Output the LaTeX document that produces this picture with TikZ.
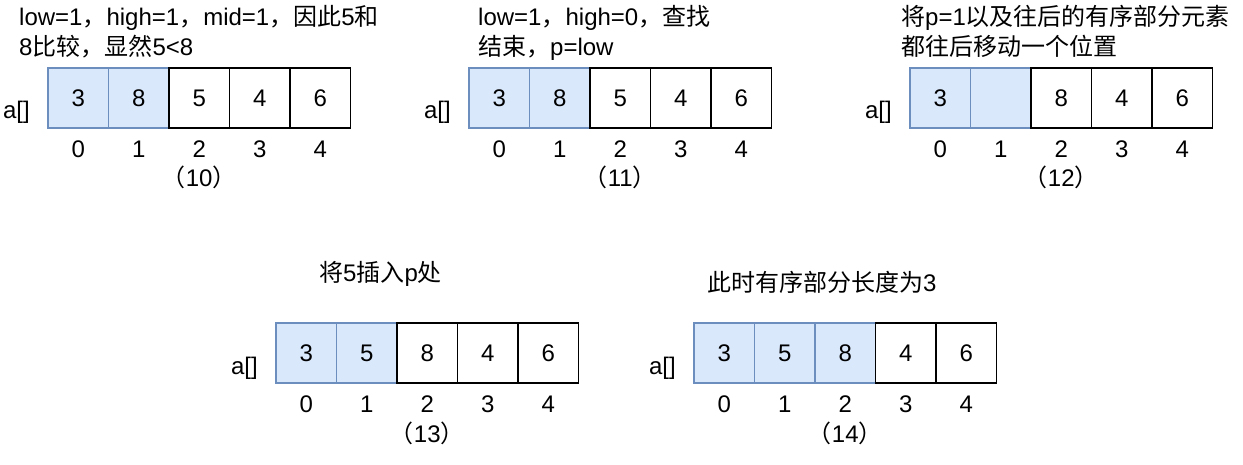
\documentclass[tikz,border=0pt]{standalone}
\usepackage{fontspec}
\setmainfont{Liberation Sans}
\newfontfamily\cjk{Noto Sans CJK SC}
\definecolor{bfill}{HTML}{DAE8FC}
\definecolor{bline}{HTML}{6C8EBF}
\newcommand\drawarr[6]{%
  \foreach \v [count=\i from 0] in {#5} {%
    \pgfmathsetmacro\cx{#2+30.25+60.5*\i}
    \ifnum\i<#4 \tikzset{cs/.style={cellb}}\else\tikzset{cs/.style={cellw}}\fi
    \node[cs] (#1c\i) at (\cx,#3+30) {\v};
    \node[txt] (#1i\i) at (\cx,#3+81.5) {\i};
  }
  \node[txt,anchor=base east] (#1a) at (#2-18,#3+51) {a[]};
  \node[txt,anchor=base] (#1cap) at (#2+151.25,#3+119) {{\cjk （}#6{\cjk ）}};
}
\begin{document}
\begin{tikzpicture}[x=1pt,y=-1pt,
  txt/.style={font=\fontsize{24}{30}\selectfont, inner sep=0pt},
  cellw/.style={txt, draw=black, line width=1.5pt, fill=white, minimum width=60.5pt, minimum height=60pt},
  cellb/.style={txt, draw=bline, line width=1.3pt, fill=bfill, minimum width=60.5pt, minimum height=60pt},
  title/.style={txt, anchor=base west}]
\fill[white] (0,0) rectangle (1243,465);
\useasboundingbox (0,0) rectangle (1243,465);
% titles
\node[title] (t10a) at (19,26) {low=1{\cjk ，}high=1{\cjk ，}mid=1{\cjk ，因此}5{\cjk 和}};
\node[title] (t10b) at (19,56) {8{\cjk 比较，显然}5<8};
\node[title] (t11a) at (478,26) {low=1{\cjk ，}high=0{\cjk ，查找}};
\node[title] (t11b) at (478,56) {{\cjk 结束，}p=low};
\node[title] (t12a) at (901,26) {{\cjk 将}p=1{\cjk 以及往后的有序部分元素}};
\node[title] (t12b) at (901,56) {{\cjk 都往后移动一个位置}};
\node[title] (t13) at (319,282) {{\cjk 将}5{\cjk 插入}p{\cjk 处}};
\node[title] (t14) at (707,291) {{\cjk 此时有序部分长度为}3};
% arrays
\drawarr{A}{48}{68}{2}{3,8,5,4,6}{10}
\drawarr{B}{469}{68}{2}{3,8,5,4,6}{11}
\drawarr{C}{910}{68}{2}{3,{},8,4,6}{12}
\drawarr{D}{276}{323}{2}{3,5,8,4,6}{13}
\drawarr{E}{694}{323}{3}{3,5,8,4,6}{14}
\end{tikzpicture}
\end{document}
